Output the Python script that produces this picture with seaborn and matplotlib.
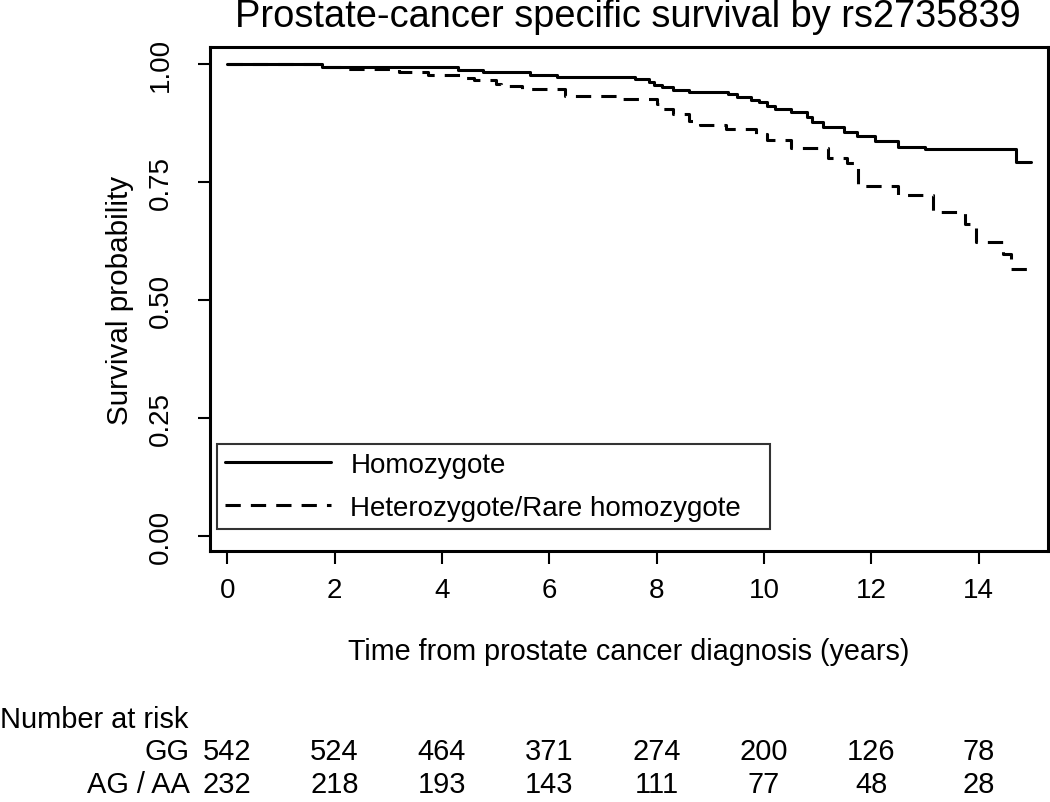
import pandas as pd
import seaborn as sns
import matplotlib.pyplot as plt
from matplotlib.lines import Line2D
from matplotlib.transforms import blended_transform_factory

# Kaplan-Meier steps (time in years, survival)
hom_time = [0, 1.77, 4.3, 4.77, 5.64, 6.15, 7.6, 7.85, 7.95, 8.1, 8.3, 8.6, 9.33, 9.5, 9.75,
            9.9, 10.05, 10.2, 10.5, 10.8, 10.9, 11.1, 11.5, 11.73, 12.07, 12.5, 13.0, 14.7, 14.97]
hom_surv = [1.0, 0.994, 0.988, 0.983, 0.977, 0.972, 0.968, 0.962, 0.956, 0.951, 0.945, 0.940, 0.936, 0.930, 0.924,
            0.920, 0.912, 0.905, 0.898, 0.888, 0.877, 0.867, 0.856, 0.847, 0.837, 0.824, 0.820, 0.792, 0.792]

het_time = [0, 1.77, 2.16, 3.2, 3.75, 4.35, 4.6, 5.0, 5.1, 5.5, 6.3, 7.3, 8.0, 8.1, 8.3, 8.6, 8.8,
            9.3, 9.85, 10.05, 10.5, 11.2, 11.55, 11.75, 12.5, 13.15, 13.75, 13.95, 14.45, 14.6, 14.9]
het_surv = [1.0, 0.994, 0.990, 0.983, 0.977, 0.970, 0.966, 0.958, 0.953, 0.947, 0.932, 0.926, 0.915, 0.905, 0.894, 0.879, 0.871,
            0.862, 0.852, 0.839, 0.822, 0.800, 0.790, 0.742, 0.722, 0.686, 0.661, 0.623, 0.597, 0.566, 0.566]

group_names = ['Homozygote', 'Heterozygote/Rare homozygote']

risk_times = [0, 2, 4, 6, 8, 10, 12, 14]
risk_rows = ['GG', 'AG / AA']
gg_risk = [542, 524, 464, 371, 274, 200, 126, 78]
ag_risk = [232, 218, 193, 143, 111, 77, 48, 28]

df = pd.concat([
    pd.DataFrame({'time': hom_time, 'surv': hom_surv, 'group': group_names[0]}),
    pd.DataFrame({'time': het_time, 'surv': het_surv, 'group': group_names[1]}),
])

sns.set_style('white')
plt.rcParams['font.family'] = ['Liberation Sans', 'DejaVu Sans']
plt.rcParams.update({'text.color': 'black', 'axes.labelcolor': 'black',
                     'xtick.color': 'black', 'ytick.color': 'black'})

fig = plt.figure(figsize=(10.5, 8.03), dpi=100)
ax = fig.add_axes([0.2, 0.3126, 0.798, 0.6276])

lw = 2.2
dash = (5, 3.3)
sns.lineplot(data=df, x='time', y='surv', style='group',
             dashes={group_names[0]: '', group_names[1]: dash},
             color='black', estimator=None, sort=False, drawstyle='steps-post',
             linewidth=lw, legend=False, ax=ax)

ax.set_xlim(-0.32, 15.29)
ax.set_ylim(-0.032, 1.036)
ax.set_xticks(risk_times)
ax.set_yticks([0, 0.25, 0.5, 0.75, 1.0])
ax.set_yticklabels(['0.00', '0.25', '0.50', '0.75', '1.00'])
ax.tick_params(axis='both', direction='out', length=9, width=1.5, color='black',
               labelcolor='black', labelsize=20, bottom=True, left=True)
ax.tick_params(axis='x', pad=10)
ax.tick_params(axis='y', pad=17, labelrotation=90)
for lab in ax.get_yticklabels():
    lab.set_va('center')

for sp in ax.spines.values():
    sp.set_color('black')
    sp.set_linewidth(2.2)

fig.text(628 / 1050, 1 - 17 / 803, 'Prostate-cancer specific survival by rs2735839',
         fontsize=27.4, ha='center', va='center')
ax.set_xlabel('Time from prostate cancer diagnosis (years)', fontsize=20.7, va='center')
ax.xaxis.set_label_coords(0.5, -0.198)
ax.set_ylabel('Survival probability', fontsize=21.3, va='center')
ax.yaxis.set_label_coords(-0.107, 0.5)

handles = [Line2D([], [], color='black', lw=lw),
           Line2D([], [], color='black', lw=lw, dashes=dash)]
leg = ax.legend(handles, group_names, loc='lower left',
                bbox_to_anchor=(0.0084, 0.0437, 0.66, 0.173), mode='expand',
                borderaxespad=0, fontsize=20, frameon=True, fancybox=False,
                handlelength=3.8, handletextpad=0.7, labelspacing=0.6,
                borderpad=0.3)
leg.get_frame().set_edgecolor('black')
leg.get_frame().set_linewidth(1.5)

# number at risk table
fig.text(0.0, 1 - 720 / 803, 'Number at risk', fontsize=20.9, ha='left', va='center')
tr = blended_transform_factory(ax.transData, fig.transFigure)
for row, vals, ypx in zip(risk_rows, [gg_risk, ag_risk], [752, 785]):
    fy = 1 - ypx / 803
    fig.text(190 / 1050, fy, row, fontsize=20.9, ha='right', va='center')
    for t, v in zip(risk_times, vals):
        fig.text(t, fy, str(v), fontsize=20.9, ha='center', va='center', transform=tr)

fig.savefig('out.png', dpi=100, facecolor='white')
